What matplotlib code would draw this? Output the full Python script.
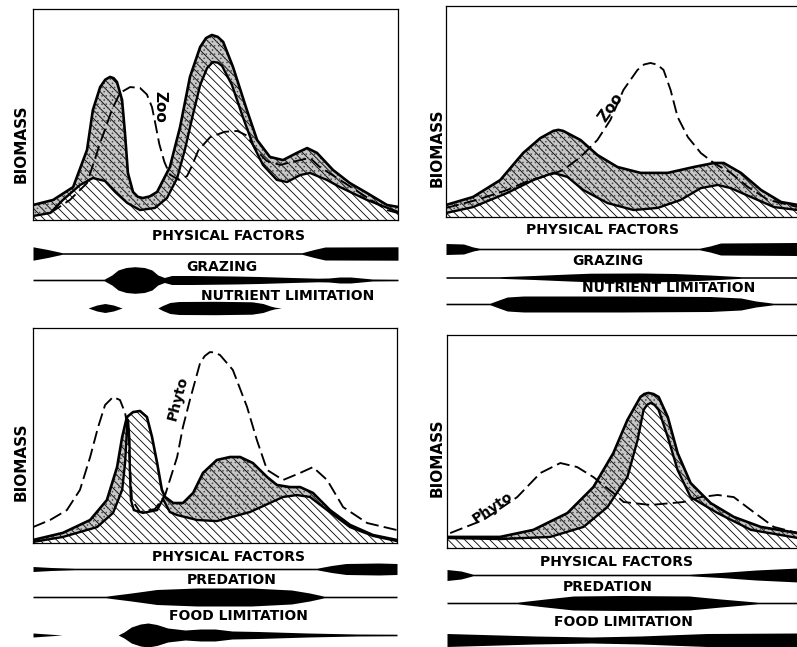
import numpy as np
import matplotlib
matplotlib.use("Agg")
import matplotlib.pyplot as plt
from matplotlib.patches import Rectangle

plt.rcParams['font.family'] = ['DejaVu Sans']
plt.rcParams['hatch.linewidth'] = 0.6

# ---------------- data (x: seasonal position 0-100, y: biomass 0-100) ----------------
# Panel A: phytoplankton (upper = potential, lower = realised), dashed = zooplankton
a_up_x = [0, 5.5, 11.0, 14.8, 16.4, 18.4, 19.8, 21.1, 22.1, 23.0, 24.4, 25.2, 26.0, 27.4, 28.7, 30.1, 32.0,
          34.0, 37.5, 40.3, 43.0, 45.8, 47.4, 49.0, 50.6, 52.1, 54.8, 58.6, 61.4, 64.9, 68.5, 72.3, 75.1,
          77.8, 82.2, 86.8, 91.5, 97.0, 100]
a_up_y = [7.1, 9.5, 15.6, 33.2, 52.1, 63.0, 66.5, 67.8, 67.2, 65.4, 56.9, 41.2, 22.3, 13.3, 11.0, 10.4, 11.2,
          13.3, 25.1, 44.1, 67.8, 82.0, 86.2, 87.7, 86.8, 84.4, 72.5, 52.1, 37.9, 29.9, 28.4, 31.8, 34.1,
          31.8, 23.7, 17.5, 12.8, 7.1, 6.2]
a_lo_x = [0, 4.7, 8.2, 12.9, 16.4, 19.7, 22.5, 25.8, 29.3, 33.4, 36.7, 39.5, 41.6, 43.8, 45.8, 47.7, 49.3,
          50.6, 51.8, 54.5, 57.5, 60.3, 63.0, 66.8, 69.6, 73.2, 75.9, 80.5, 84.1, 91.5, 100]
a_lo_y = [1.9, 3.3, 9.5, 16.6, 19.9, 18.5, 13.3, 8.1, 4.7, 5.7, 10.4, 19.9, 33.2, 49.8, 64.0, 72.0, 74.9,
          74.6, 73.0, 64.0, 48.8, 35.5, 26.1, 19.0, 18.0, 21.3, 22.3, 19.0, 15.6, 9.5, 3.8]
a_zoo_x = [4.7, 10.1, 14.8, 18.4, 21.6, 23.8, 26.6, 29.3, 31.2, 32.6, 33.6, 34.6, 36.0, 37.5, 40.0, 42.2,
           43.5, 45.3, 48.5, 52.5, 56.0, 58.6, 61.0, 64.0, 67.7, 73.2, 75.9, 78.6, 84.1, 89.6, 97.0, 100]
a_zoo_y = [3.3, 9.5, 17.5, 36.5, 52.1, 60.2, 63.0, 62.6, 59.5, 53.5, 45.0, 36.0, 27.5, 21.5, 19.0, 20.8,
           25.5, 33.0, 39.2, 41.8, 42.2, 40.0, 33.5, 28.0, 26.1, 28.4, 29.4, 25.1, 19.0, 12.8, 4.7, 3.3]

# Panel B
b_up_x = [0, 7.7, 15.4, 21.9, 26.8, 30.5, 31.9, 33.3, 38.2, 43.0, 48.7, 55.3, 63.0, 70.4, 76.1, 78.9, 83.8, 89.5, 95.2, 100]
b_up_y = [5.7, 9.5, 17.5, 30.3, 37.4, 40.8, 41.3, 40.8, 36.5, 29.4, 23.7, 20.9, 20.9, 23.7, 25.6, 25.6, 20.9, 12.8, 7.1, 5.7]
b_lo_x = [0, 7.7, 17.4, 24.8, 30.5, 34.5, 39.0, 45.9, 53.3, 60.1, 66.7, 72.4, 77.2, 80.9, 86.6, 93.2, 100]
b_lo_y = [1.9, 4.7, 11.4, 17.5, 20.9, 19.0, 12.8, 6.6, 3.3, 4.3, 8.1, 13.7, 15.2, 13.7, 9.5, 4.7, 3.3]
b_zoo_x = [0, 8.8, 17.4, 23.9, 29.6, 33.3, 38.2, 43.0, 46.7, 50.4, 54.4, 56.3, 58.1, 60.0, 61.8, 63.8, 65.8,
           68.7, 72.4, 76.1, 80.9, 85.8, 91.5, 100]
b_zoo_y = [4.3, 8.1, 12.8, 17.5, 19.9, 22.3, 28.4, 36.5, 46.0, 60.2, 69.7, 72.3, 73.0, 72.2, 69.7, 60.2, 47.4,
           37.9, 30.3, 25.6, 20.9, 14.2, 8.1, 4.7]

# Panel C: zooplankton, dashed = phytoplankton
c_up_x = [0, 8.2, 15.7, 20.3, 23.1, 24.5, 25.8, 27.5, 29.4, 31.3, 32.7, 34.1, 35.4, 36.3, 38.5, 41.2, 44.0,
          46.7, 50.5, 54.1, 56.9, 60.4, 64.3, 67.0, 70.6, 73.4, 76.9, 81.6, 87.1, 93.4, 100]
c_up_y = [1.4, 4.7, 10.7, 20.0, 35.3, 49.3, 58.6, 60.9, 61.4, 58.6, 49.3, 37.2, 24.7, 21.4, 18.6, 18.6, 23.3,
          32.6, 38.6, 40.0, 40.0, 37.2, 30.7, 27.0, 26.0, 26.0, 23.3, 15.3, 8.4, 3.7, 1.4]
c_lo_x = [0, 8.2, 17.6, 22.0, 24.5, 25.3, 25.8, 26.1, 26.5, 26.6, 26.9, 27.7, 30.2, 34.1, 35.7, 37.6, 39.6,
          45.1, 50.5, 59.6, 68.7, 72.5, 76.1, 80.8, 87.1, 93.4, 100]
c_lo_y = [0.5, 2.8, 7.4, 14.0, 24.7, 37.2, 52.6, 57.2, 47.9, 34.0, 20.0, 15.3, 14.0, 15.3, 20.5, 14.4, 13.0,
          10.7, 10.2, 14.4, 21.4, 22.3, 21.4, 15.3, 7.4, 3.3, 0.9]
c_phy_x = [0, 4.7, 9.3, 12.9, 15.7, 17.9, 19.8, 22.0, 23.9, 25.3, 26.1, 26.6, 27.2, 29.4, 33.5, 36.3, 37.6,
           39.6, 41.2, 43.1, 45.9, 47.2, 48.6, 50.0, 51.4, 54.9, 58.8, 61.5, 64.3, 68.7, 73.4, 76.9, 80.8,
           85.2, 91.8, 100]
c_phy_y = [7.4, 10.7, 15.3, 24.7, 40.0, 54.0, 64.2, 67.9, 66.5, 60.5, 52.6, 36.3, 20.0, 14.4, 15.8, 22.3, 29.3,
           40.0, 54.0, 66.5, 83.7, 87.0, 88.8, 88.6, 87.4, 80.5, 63.3, 47.9, 34.0, 29.3, 32.6, 35.3, 29.3,
           16.7, 9.3, 6.0]

# Panel D
d_up_x = [0, 15.1, 24.6, 34.3, 41.7, 47.4, 51.4, 55.1, 56.2, 57.4, 58.8, 60.3, 62.9, 65.7, 69.4, 75.1, 81.7, 89.4, 100]
d_up_y = [5.2, 5.2, 8.5, 16.4, 28.6, 44.6, 60.1, 70.9, 72.3, 72.8, 72.3, 70.9, 61.5, 44.6, 30.5, 21.1, 14.6, 9.9, 7.0]
d_lo_x = [0, 15.1, 29.4, 38.9, 45.7, 51.4, 54.3, 56.0, 57.0, 58.0, 59.1, 60.3, 62.9, 65.7, 69.4, 77.1, 86.6, 100]
d_lo_y = [4.7, 4.2, 5.2, 9.9, 19.2, 33.3, 50.7, 64.8, 67.2, 68.1, 67.2, 64.8, 52.1, 36.6, 23.9, 16.4, 8.5, 4.7]
d_phy_x = [0.9, 10.3, 20.0, 26.6, 32.3, 37.1, 41.7, 47.4, 50.3, 58.0, 67.4, 72.3, 77.1, 81.7, 86.6, 93.1, 100]
d_phy_y = [7.0, 13.1, 23.9, 35.2, 39.9, 38.0, 33.3, 25.8, 21.6, 20.2, 21.6, 23.9, 24.9, 23.9, 17.8, 9.9, 7.0]

# Factor-intensity bands (x position, half-thickness)
a_phys_x = [0, 4, 8, 73.7, 77, 80, 100]
a_phys_w = [6.7, 4, 0.8, 0.8, 4, 6.5, 6.7]
a_graz_x = [0, 19.5, 21.6, 23.3, 25.5, 27.9, 30.5, 32.6, 34.2, 36, 38, 43.6, 55, 62, 71, 78, 81, 84, 87, 90, 93, 100]
a_graz_w = [0.8, 0.8, 5, 10, 12.5, 13.3, 12.5, 10, 5, 2.5, 4.5, 4.5, 4, 3.5, 2.5, 1.8, 2, 3, 3, 2, 1, 0.8]
a_nutr_x = [15.1, 17.5, 19.7, 22, 24.4, 34.2, 35.5, 37.5, 40, 50, 60, 63, 65, 66.3, 68]
a_nutr_w = [0, 3, 4.5, 3, 0, 0, 2.5, 5.5, 6.5, 6.7, 6.2, 4.5, 2, 0.8, 0]

b_phys_x = [0, 5, 7.7, 9.5, 72, 75, 78, 100]
b_phys_w = [5.5, 5, 2, 0.8, 0.8, 3, 6, 6.5]
b_graz_x = [0, 15, 25, 35, 41, 55, 65, 75, 84, 100]
b_graz_w = [0.8, 0.8, 2, 3.5, 4.3, 4.5, 4, 2.5, 0.8, 0.8]
b_nutr_x = [0, 12.5, 15, 17.4, 22, 50, 75, 83.8, 88, 93, 100]
b_nutr_w = [0.8, 0.8, 4, 7, 8, 8, 7.5, 6, 3, 0.8, 0.8]

c_phys_x = [0, 5, 11.5, 78, 82, 86, 95, 100]
c_phys_w = [2.5, 1.5, 0.8, 0.8, 3.5, 5.5, 6, 5.5]
c_pred_x = [0, 20, 27, 34, 45, 60, 71, 76, 80, 100]
c_pred_w = [0.8, 0.8, 4, 7.5, 9, 9, 7, 4, 0.8, 0.8]
c_food_x = [0, 4, 8, 23.4, 25, 27, 29.5, 31.6, 34, 37, 41.8, 46, 50, 54.7, 61.8, 75.5, 89, 100]
c_food_w = [2, 1, 0, 0, 3, 8, 11, 12, 10.5, 7, 5, 6, 6, 4, 3.5, 2, 1, 0.8]

d_phys_x = [0, 4, 7.4, 69, 78, 88, 100]
d_phys_w = [5.5, 4, 0.8, 0.8, 2.5, 5, 7]
d_pred_x = [0, 20, 28, 36, 50, 69, 78, 88.6, 100]
d_pred_w = [0.8, 0.8, 4, 7, 7.5, 7, 4, 0.8, 0.8]
d_food_x = [0, 10, 25, 41, 55, 74, 100]
d_food_w = [6.5, 5.5, 4, 3, 4, 6.5, 7]

# ---------------- drawing ----------------
W, H = 797, 647
fig = plt.figure(figsize=(W / 100, H / 100), dpi=100)
fig.patch.set_facecolor('white')

HATCH = '\\' * 4


def panel(box, ux, uy, lx, ly, dx, dy, tag, tag_xy, tag_rot, tag_size, stipple_spans=((0, 100),)):
    x0, y0, x1, y1 = box
    ax = fig.add_axes([x0 / W, 1 - y1 / H, (x1 - x0) / W, (y1 - y0) / H])
    ax.set_xlim(0, 100)
    ax.set_ylim(0, 100)
    ax.set_xticks([])
    ax.set_yticks([])
    for s in ax.spines.values():
        s.set_linewidth(0.9)
    ux, uy, lx, ly = map(np.asarray, (ux, uy, lx, ly))
    # hatched area under the upper curve
    ax.fill(np.r_[ux, ux[-1], ux[0]], np.r_[uy, 0, 0], facecolor='white',
            edgecolor='black', hatch=HATCH, lw=0, zorder=1)
    # stippled area between the curves
    px = np.r_[ux, lx[::-1]]
    py = np.r_[uy, ly[::-1]]
    for s0, s1 in stipple_spans:
        clip = Rectangle((s0, -5), s1 - s0, 110, transform=ax.transData)
        p1 = ax.fill(px, py, facecolor='black', alpha=0.22, lw=0, zorder=2)[0]
        p2 = ax.fill(px, py, facecolor='none', edgecolor='0.3', hatch='....', lw=0, zorder=2)[0]
        p1.set_clip_path(clip)
        p2.set_clip_path(clip)
    ax.plot(dx, dy, color='black', lw=1.35, dashes=(7, 2.8), zorder=3)
    ax.plot(lx, ly, color='black', lw=1.7, solid_joinstyle='round', zorder=4)
    ax.plot(ux, uy, color='black', lw=1.9, solid_joinstyle='round', zorder=4)
    ax.text(tag_xy[0], tag_xy[1], tag, rotation=tag_rot, ha='center', va='center',
            fontsize=tag_size, fontweight='bold', zorder=5)
    return ax


def band(x0, x1, yc, bx, bw):
    ax = fig.add_axes([x0 / W, 1 - (yc + 16) / H, (x1 - x0) / W, 32 / H])
    ax.set_xlim(0, 100)
    ax.set_ylim(-16, 16)
    ax.axis('off')
    bx = np.asarray(bx)
    bw = np.asarray(bw)
    ax.fill_between(bx, -bw, bw, color='black', lw=0)


def label(px, py, s, size=10, rot=0):
    fig.text(px / W, 1 - py / H, s, ha='center', va='center', fontsize=size,
             fontweight='bold', rotation=rot)


# Panel A
panel((33, 9, 398, 220), a_up_x, a_up_y, a_lo_x, a_lo_y, a_zoo_x, a_zoo_y, 'Zoo', (34.8, 53.6), -90, 11)
band(33, 398, 253.5, a_phys_x, a_phys_w)
band(33, 398, 280, a_graz_x, a_graz_w)
band(33, 398, 308, a_nutr_x, a_nutr_w)
label(229, 236, 'PHYSICAL FACTORS')
label(222, 267, 'GRAZING')
label(288, 296, 'NUTRIENT LIMITATION')
label(21, 144, 'BIOMASS', 11, 90)

# Panel B
panel((446, 6, 798, 217), b_up_x, b_up_y, b_lo_x, b_lo_y, b_zoo_x, b_zoo_y, 'Zoo', (46.7, 52.1), 55, 11)
band(446, 798, 249, b_phys_x, b_phys_w)
band(446, 798, 277.5, b_graz_x, b_graz_w)
band(446, 798, 304, b_nutr_x, b_nutr_w)
label(602, 230, 'PHYSICAL FACTORS')
label(608, 261, 'GRAZING')
label(669, 288.5, 'NUTRIENT LIMITATION')
label(437, 148, 'BIOMASS', 11, 90)

# Panel C
panel((33, 328, 397, 543), c_up_x, c_up_y, c_lo_x, c_lo_y, c_phy_x, c_phy_y, 'Phyto', (39.8, 67.4), 75, 10,
      stipple_spans=((0, 26.3), (36.0, 100)))
band(33, 397, 569, c_phys_x, c_phys_w)
band(33, 397, 597, c_pred_x, c_pred_w)
band(33, 397, 635, c_food_x, c_food_w)
label(228, 557, 'PHYSICAL FACTORS')
label(232, 580, 'PREDATION')
label(238, 616, 'FOOD LIMITATION')
label(21, 462, 'BIOMASS', 11, 90)

# Panel D
panel((447, 335, 798, 548), d_up_x, d_up_y, d_lo_x, d_lo_y, d_phy_x, d_phy_y, 'Phyto', (13.1, 19.2), 34, 10)
band(447, 798, 575, d_phys_x, d_phys_w)
band(447, 798, 603, d_pred_x, d_pred_w)
band(447, 798, 640, d_food_x, d_food_w)
label(616, 562, 'PHYSICAL FACTORS')
label(608, 587, 'PREDATION')
label(623, 622, 'FOOD LIMITATION')
label(437, 458, 'BIOMASS', 11, 90)

fig.savefig('out.png', dpi=100, facecolor='white')
